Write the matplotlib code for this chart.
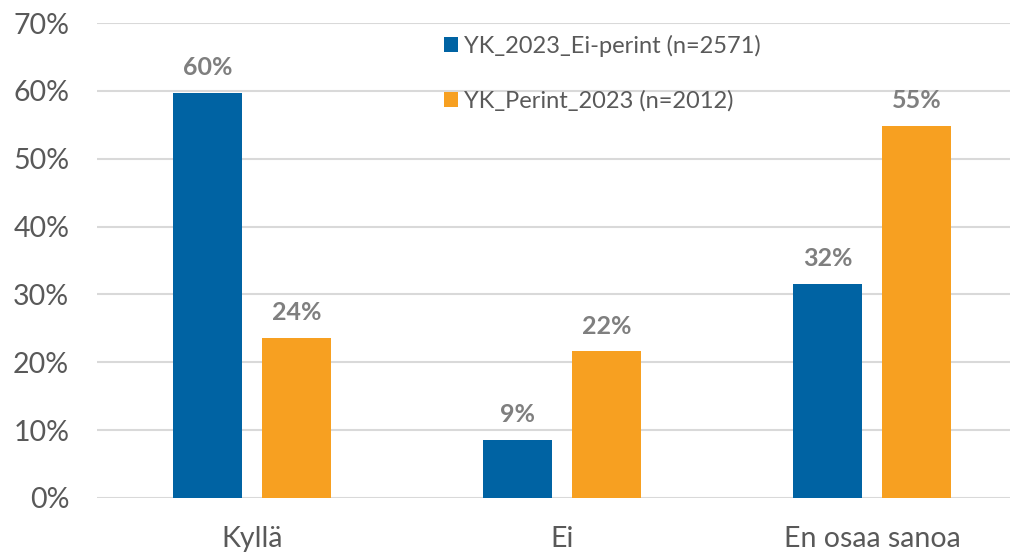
import numpy as np
import matplotlib.pyplot as plt

categories = ['Kyllä', 'Ei', 'En osaa sanoa']
series_names = ['YK_2023_Ei-perint (n=2571)', 'YK_Perint_2023 (n=2012)']
ei_perint = [0.597, 0.086, 0.316]
perint = [0.236, 0.216, 0.548]
colors = ['#0063A3', '#F7A021']

plt.rcParams['font.family'] = ['Lato', 'DejaVu Sans']

fig = plt.figure(figsize=(10.1, 5.54), dpi=100)
# axis runs a bit past the right edge, like the original
ax = fig.add_axes([97 / 1010, 56 / 554, 930 / 1010, 475 / 554])

x = np.arange(len(categories))
w = 0.2226
off = 0.1435
for vals, col, name, dx in [(ei_perint, colors[0], series_names[0], -off),
                            (perint, colors[1], series_names[1], off)]:
    bars = ax.bar(x + dx, vals, width=w, color=col, label=name, zorder=3)
    for b, v in zip(bars, vals):
        ax.annotate(f'{v * 100:.0f}%', (b.get_x() + b.get_width() / 2, v),
                    xytext=(0, 10), textcoords='offset points',
                    ha='center', va='bottom', fontsize=18, fontweight='bold',
                    color='#7F7F7F')

ax.set_xlim(-0.5, 2.5)
ax.set_ylim(0, 0.7)
ax.set_yticks(np.arange(0, 0.71, 0.1))
ax.set_yticklabels([f'{t}%' for t in range(0, 71, 10)])
ax.set_xticks(x)
ax.set_xticklabels(categories)
ax.tick_params(axis='y', labelsize=20.5, labelcolor='#595959', length=0, pad=20)
ax.tick_params(axis='x', labelsize=20.5, labelcolor='#595959', length=0, pad=20)
ax.grid(axis='y', color='#D9D9D9', linewidth=1.5, zorder=0)
for s in ax.spines.values():
    s.set_visible(False)

leg = ax.legend(loc='upper left', bbox_to_anchor=(0.35, 1.02), frameon=False,
                fontsize=17, handlelength=0.6, handleheight=0.6,
                handletextpad=0.25, labelspacing=1.4, labelcolor='#595959')

fig.savefig('out.png', dpi=100)
